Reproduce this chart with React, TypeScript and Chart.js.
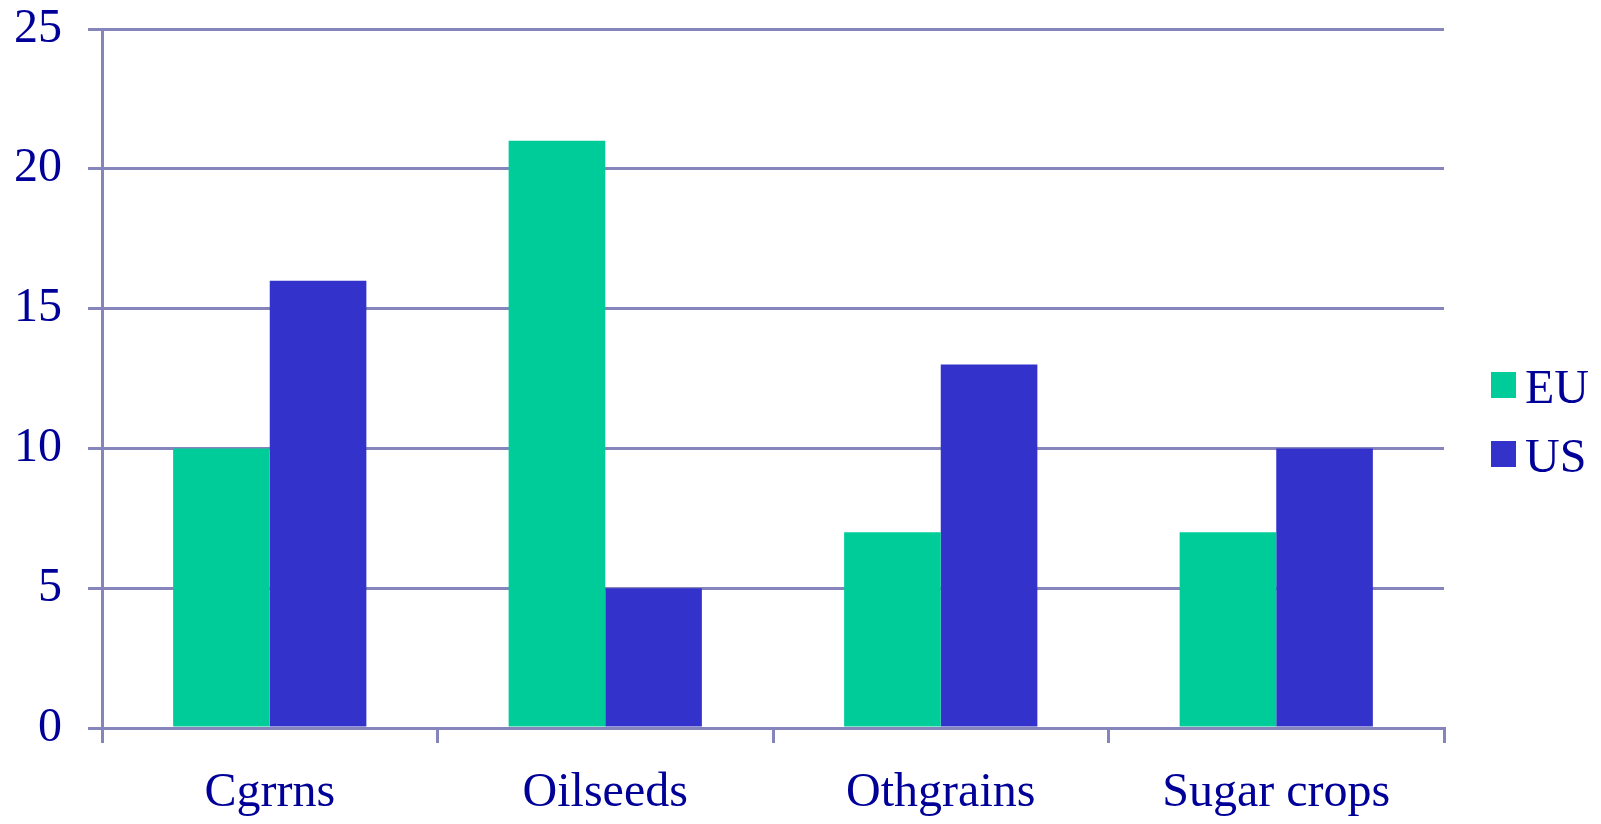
import React, { useEffect, useRef } from "react";
import { Chart, registerables } from "chart.js";

Chart.register(...registerables);

// Crop groups along the x axis
const categories = ["Cgrrns", "Oilseeds", "Othgrains", "Sugar crops"];
// Values per region
const euValues = [10, 21, 7, 7];
const usValues = [16, 5, 13, 10];
const seriesNames = ["EU", "US"];
const seriesColors = ["#00CC99", "#3333CC"];

const TEXT_COLOR = "#000099";
const LINE_COLOR = "#8585BB";
const FONT_FAMILY = "'Liberation Serif', 'Times New Roman', serif";

// Legend drawn to the right of the plot: square swatch followed by the series label
const sideLegend = {
  id: "sideLegend",
  afterDraw(chart: any) {
    const { ctx, chartArea } = chart;
    const boxSize = 25;
    const left = chartArea.right + 47;
    const firstTop = 372;
    const step = 69;
    ctx.save();
    ctx.font = `48px ${FONT_FAMILY}`;
    ctx.textBaseline = "alphabetic";
    ctx.textAlign = "left";
    chart.data.datasets.forEach((ds: any, i: number) => {
      const top = firstTop + i * step;
      ctx.fillStyle = ds.backgroundColor;
      ctx.fillRect(left, top, boxSize, boxSize + 1);
      ctx.fillStyle = TEXT_COLOR;
      ctx.fillText(ds.label, left + 34, top + 31);
    });
    ctx.restore();
  },
};

export default function App() {
  const canvasRef = useRef<HTMLCanvasElement | null>(null);

  useEffect(() => {
    const canvas = canvasRef.current;
    if (!canvas) return;
    const chart = new Chart(canvas, {
      type: "bar",
      data: {
        labels: categories,
        datasets: [
          {
            label: seriesNames[0],
            data: euValues,
            backgroundColor: seriesColors[0],
            borderWidth: 0,
          },
          {
            label: seriesNames[1],
            data: usValues,
            backgroundColor: seriesColors[1],
            borderWidth: 0,
          },
        ],
      },
      options: {
        animation: false,
        responsive: false,
        maintainAspectRatio: false,
        layout: { padding: { top: 0, right: 157, left: 0, bottom: 0 } },
        datasets: {
          bar: { categoryPercentage: 0.576, barPercentage: 1 },
        },
        plugins: {
          legend: { display: false },
          tooltip: { enabled: false },
        },
        scales: {
          x: {
            offset: true,
            grid: {
              offset: true,
              drawOnChartArea: false,
              drawTicks: true,
              tickLength: 15,
              color: LINE_COLOR,
              lineWidth: 3,
            },
            border: { display: true, color: LINE_COLOR, width: 3 },
            ticks: {
              color: TEXT_COLOR,
              font: { family: FONT_FAMILY, size: 48 },
              padding: 22,
              maxRotation: 0,
              autoSkip: false,
            },
            afterFit(scale: any) {
              scale.height = 96;
            },
          },
          y: {
            min: 0,
            max: 25,
            ticks: {
              stepSize: 5,
              color: TEXT_COLOR,
              font: { family: FONT_FAMILY, size: 48 },
              padding: 26,
            },
            grid: {
              color: LINE_COLOR,
              lineWidth: 3,
              tickLength: 14,
              drawTicks: true,
            },
            border: { display: true, color: LINE_COLOR, width: 3 },
            afterFit(scale: any) {
              scale.width = 102;
              scale.paddingTop = 29;
              scale.paddingBottom = 0;
            },
          },
        },
      },
      plugins: [sideLegend],
    });
    return () => chart.destroy();
  }, []);

  return (
    <div
      style={{
        position: "absolute",
        left: 0,
        top: 0,
        width: 1601,
        height: 824,
        background: "#ffffff",
      }}
    >
      <canvas
        ref={canvasRef}
        width={1601}
        height={824}
        style={{ width: 1601, height: 824, display: "block" }}
      />
    </div>
  );
}
